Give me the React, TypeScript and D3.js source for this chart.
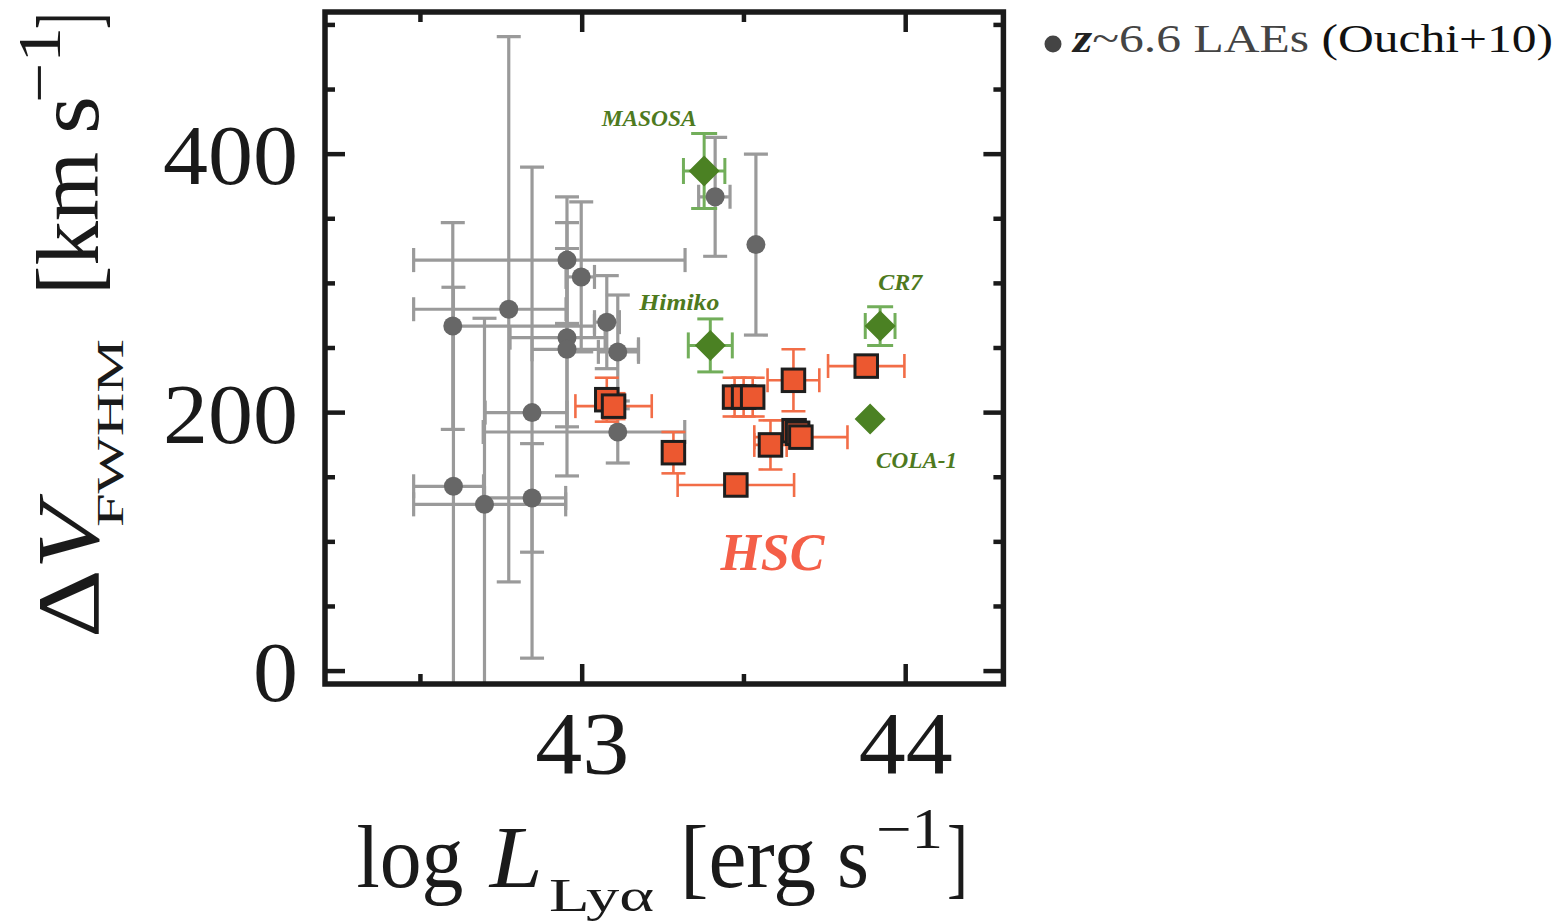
import React from "react";
import * as d3 from "d3";

// ---------- data ----------
// z~6.6 LAEs (Ouchi+10)
const ouchiLogL = [42.6, 42.773, 42.953, 42.997, 43.076, 42.953, 42.953, 43.11, 42.845, 43.11, 42.602, 42.698, 42.845, 43.411, 43.537];
const ouchiFWHM = [267, 280, 318, 305, 270, 258, 249, 247, 200, 185, 143, 129, 134, 367, 330];
const ouchiLogLLo = [42.6, 42.479, 42.479, 42.95, 43.038, 42.777, 42.845, 43.05, 42.7, 42.694, 42.479, 42.479, 42.698, 43.36, 43.537];
const ouchiLogLHi = [43.038, 42.95, 43.318, 43.038, 43.115, 43.071, 43.174, 43.174, 42.953, 43.317, 42.695, 42.949, 42.949, 43.457, 43.537];
const ouchiFWHMErr = [80, 211, 49, 58, 36, 69, 98, 44, 190, 24, 154, 144, 42, 46, 70];

// HSC LAEs
const hscLogL = [43.076, 43.097, 43.282, 43.475, 43.471, 43.499, 43.527, 43.653, 43.878, 43.582, 43.655, 43.666, 43.676];
const hscFWHM = [210, 205, 169, 144, 212, 212, 212, 225, 236, 175, 186, 184, 181];
const hscLogLErr = [0.03, 0.118, 0.02, 0.18, 0.03, 0.03, 0.03, 0.08, 0.118, 0.05, 0.03, 0.03, 0.144];
const hscFWHMErr = [17, 10, 16, 8, 15, 15, 15, 24, 8, 19, 8, 8, 8];

// Named luminous LAEs
const namedLabels = ["MASOSA", "Himiko", "CR7", "COLA-1"];
const namedLogL = [43.377, 43.396, 43.921, 43.89];
const namedFWHM = [387, 252, 267, 195];
const namedLogLErr = [0.064, 0.068, 0.046, 0];
const namedFWHMErr = [29, 20.5, 15, 0];

// axes
const xMajorTicks = [43, 44];
const xMinorTicks = [42.5, 43.5];
const yMajorTicks = [0, 200, 400];
const yMinorTicks = [50, 100, 150, 250, 300, 350, 450, 500];
const xTickLabels = ["43", "44"];
const yTickLabels = ["0", "200", "400"];

// ---------- layout (not data) ----------
const labelDx = [-55, -31, 20, 46.5];
const labelDy = [-45, -35, -36, 49];
const labelW = [95, 80, 44, 81];

const SERIF = "'Liberation Serif', 'Times New Roman', serif";

export default function App() {
  const x = d3.scaleLinear().domain([42.205, 44.302]).range([325, 1003.4]);
  const y = d3.scaleLinear().domain([-10, 510]).range([684, 12]);
  const [xl, xr] = x.range();
  const [yb, yt] = y.range();

  const grayBar = "#9a9a9a";
  const grayDot = "#676767";
  const orangeFill = "#EC5830";
  const orangeBar = "#F26D47";
  const greenFill = "#4B8123";
  const greenBar = "#72AE5A";
  const greenText = "#4E7A1E";
  const ink = "#1a1a1a";

  const capG = 12;
  const capO = 12;
  const capGr = 13;

  const hCap = (cx: number, cy: number, h: number, key: string, color: string, w: number) => (
    <line key={key} x1={cx - h} x2={cx + h} y1={cy} y2={cy} stroke={color} strokeWidth={w} />
  );
  const vCap = (cx: number, cy: number, h: number, key: string, color: string, w: number) => (
    <line key={key} x1={cx} x2={cx} y1={cy - h} y2={cy + h} stroke={color} strokeWidth={w} />
  );

  // Gray error bars
  const grayBars: React.ReactNode[] = [];
  ouchiLogL.forEach((lx, i) => {
    const cx = x(lx);
    const cy = y(ouchiFWHM[i]);
    const e = ouchiFWHMErr[i];
    const ytop = y(ouchiFWHM[i] + e);
    const ybot = y(ouchiFWHM[i] - e);
    grayBars.push(<line key={`gv${i}`} x1={cx} x2={cx} y1={ytop} y2={ybot} stroke={grayBar} strokeWidth={3.2} />);
    grayBars.push(hCap(cx, ytop, capG, `gct${i}`, grayBar, 3.2));
    grayBars.push(hCap(cx, ybot, capG, `gcb${i}`, grayBar, 3.2));
    const lo = ouchiLogLLo[i];
    const hi = ouchiLogLHi[i];
    if (hi - lo > 0.001) {
      grayBars.push(<line key={`gh${i}`} x1={x(lo)} x2={x(hi)} y1={cy} y2={cy} stroke={grayBar} strokeWidth={3.2} />);
      if (lx - lo > 0.005) grayBars.push(vCap(x(lo), cy, capG, `gcl${i}`, grayBar, 3.2));
      if (hi - lx > 0.005) grayBars.push(vCap(x(hi), cy, capG, `gcr${i}`, grayBar, 3.2));
    }
  });

  const grayDots = ouchiLogL.map((lx, i) => (
    <circle key={`gd${i}`} cx={x(lx)} cy={y(ouchiFWHM[i])} r={9.5} fill={grayDot} />
  ));

  // Green named objects
  const greenBars: React.ReactNode[] = [];
  namedLogL.forEach((lx, i) => {
    const cx = x(lx);
    const cy = y(namedFWHM[i]);
    if (namedFWHMErr[i] > 0) {
      const t = y(namedFWHM[i] + namedFWHMErr[i]);
      const b = y(namedFWHM[i] - namedFWHMErr[i]);
      greenBars.push(<line key={`nv${i}`} x1={cx} x2={cx} y1={t} y2={b} stroke={greenBar} strokeWidth={3} />);
      greenBars.push(hCap(cx, t, capGr, `nct${i}`, greenBar, 3));
      greenBars.push(hCap(cx, b, capGr, `ncb${i}`, greenBar, 3));
    }
    if (namedLogLErr[i] > 0) {
      const l = x(lx - namedLogLErr[i]);
      const r = x(lx + namedLogLErr[i]);
      greenBars.push(<line key={`nh${i}`} x1={l} x2={r} y1={cy} y2={cy} stroke={greenBar} strokeWidth={3} />);
      greenBars.push(vCap(l, cy, capGr, `ncl${i}`, greenBar, 3));
      greenBars.push(vCap(r, cy, capGr, `ncr${i}`, greenBar, 3));
    }
  });
  const dHalf = 15.5;
  const greenMarks = namedLogL.map((lx, i) => {
    const cx = x(lx);
    const cy = y(namedFWHM[i]);
    return (
      <path
        key={`nm${i}`}
        d={`M${cx},${cy - dHalf}L${cx + dHalf},${cy}L${cx},${cy + dHalf}L${cx - dHalf},${cy}Z`}
        fill={greenFill}
      />
    );
  });
  const greenLabels = namedLabels.map((t, i) => (
    <text
      key={`nl${i}`}
      x={x(namedLogL[i]) + labelDx[i]}
      y={y(namedFWHM[i]) + labelDy[i]}
      textAnchor="middle"
      fontFamily={SERIF}
      fontWeight="bold"
      fontStyle="italic"
      fontSize={23}
      fill={greenText}
      textLength={labelW[i]}
      lengthAdjust="spacingAndGlyphs"
    >
      {t}
    </text>
  ));

  // HSC
  const hscBars: React.ReactNode[] = [];
  hscLogL.forEach((lx, i) => {
    const cx = x(lx);
    const cy = y(hscFWHM[i]);
    const t = y(hscFWHM[i] + hscFWHMErr[i]);
    const b = y(hscFWHM[i] - hscFWHMErr[i]);
    const l = x(lx - hscLogLErr[i]);
    const r = x(lx + hscLogLErr[i]);
    hscBars.push(<line key={`hv${i}`} x1={cx} x2={cx} y1={t} y2={b} stroke={orangeBar} strokeWidth={2.6} />);
    hscBars.push(hCap(cx, t, capO, `hct${i}`, orangeBar, 2.6));
    hscBars.push(hCap(cx, b, capO, `hcb${i}`, orangeBar, 2.6));
    hscBars.push(<line key={`hh${i}`} x1={l} x2={r} y1={cy} y2={cy} stroke={orangeBar} strokeWidth={2.6} />);
    hscBars.push(vCap(l, cy, capO, `hcl${i}`, orangeBar, 2.6));
    hscBars.push(vCap(r, cy, capO, `hcr${i}`, orangeBar, 2.6));
  });
  const sq = 22.5;
  const hscMarks = hscLogL.map((lx, i) => (
    <rect
      key={`hm${i}`}
      x={x(lx) - sq / 2}
      y={y(hscFWHM[i]) - sq / 2}
      width={sq}
      height={sq}
      fill={orangeFill}
      stroke="#1e1e1e"
      strokeWidth={3}
    />
  ));

  // ticks
  const tickW = 4.5;
  const majL = 20;
  const minL = 10;
  const ticks: React.ReactNode[] = [];
  xMajorTicks.concat(xMinorTicks).forEach((v, i) => {
    const len = i < xMajorTicks.length ? majL : minL;
    const px = x(v);
    ticks.push(<line key={`xb${i}`} x1={px} x2={px} y1={yb} y2={yb - len} stroke={ink} strokeWidth={tickW} />);
    ticks.push(<line key={`xt${i}`} x1={px} x2={px} y1={yt} y2={yt + len} stroke={ink} strokeWidth={tickW} />);
  });
  yMajorTicks.concat(yMinorTicks).forEach((v, i) => {
    const len = i < yMajorTicks.length ? majL : minL;
    const py = y(v);
    ticks.push(<line key={`yl${i}`} x1={xl} x2={xl + len} y1={py} y2={py} stroke={ink} strokeWidth={tickW} />);
    ticks.push(<line key={`yr${i}`} x1={xr} x2={xr - len} y1={py} y2={py} stroke={ink} strokeWidth={tickW} />);
  });

  const yTickTexts = yMajorTicks.map((v, i) => (
    <text
      key={`ytl${i}`}
      x={298}
      y={y(v) + 30}
      textAnchor="end"
      fontFamily={SERIF}
      fontSize={84}
      fill={ink}
      textLength={yTickLabels[i].length * 45}
      lengthAdjust="spacingAndGlyphs"
    >
      {yTickLabels[i]}
    </text>
  ));
  const xTickTexts = xMajorTicks.map((v, i) => (
    <text
      key={`xtl${i}`}
      x={x(v) - 47}
      y={773}
      fontFamily={SERIF}
      fontSize={88}
      fill={ink}
      textLength={94}
      lengthAdjust="spacingAndGlyphs"
    >
      {xTickLabels[i]}
    </text>
  ));

  const T = (props: any) => (
    <text fontFamily={SERIF} fill={ink} lengthAdjust="spacingAndGlyphs" {...props} />
  );

  return (
    <svg
      width={1566}
      height={921}
      viewBox="0 0 1566 921"
      style={{ position: "absolute", left: 0, top: 0, display: "block", background: "#fff" }}
    >
      <defs>
        <clipPath id="plotClip">
          <rect x={xl} y={yt} width={xr - xl} height={yb - yt} />
        </clipPath>
      </defs>
      <rect x={0} y={0} width={1566} height={921} fill="#fff" />

      <g clipPath="url(#plotClip)">
        {grayBars}
        {greenBars}
        {grayDots}
        {greenMarks}
        {hscBars}
        {hscMarks}
      </g>
      {greenLabels}
      <text
        x={772.4}
        y={570}
        textAnchor="middle"
        fontFamily={SERIF}
        fontWeight="bold"
        fontStyle="italic"
        fontSize={52}
        fill="#F45F48"
        textLength={104}
        lengthAdjust="spacingAndGlyphs"
      >
        HSC
      </text>

      {ticks}
      <rect x={xl} y={yt} width={xr - xl} height={yb - yt} fill="none" stroke={ink} strokeWidth={5.5} />

      {yTickTexts}
      {xTickTexts}

      {/* x-axis label */}
      <T x={356.4} y={886.7} fontSize={88} textLength={107}>log</T>
      <T x={489.7} y={886.7} fontSize={88} fontStyle="italic" textLength={53}>L</T>
      <T x={549} y={911} fontSize={46} textLength={105}>Lyα</T>
      <T x={680} y={886.7} fontSize={88} textLength={136}>[erg</T>
      <T x={837} y={886.7} fontSize={88} textLength={32}>s</T>
      <T x={876} y={848} fontSize={56} textLength={67}>−1</T>
      <T x={947} y={886.7} fontSize={88} textLength={21}>]</T>

      {/* y-axis label (rotated) */}
      <g transform="rotate(-90)">
        <T x={-638} y={98} fontSize={88} textLength={134}>
          Δ<tspan fontStyle="italic">V</tspan>
        </T>
        <T x={-527} y={123} fontSize={37} textLength={188}>FWHM</T>
        <T x={-295} y={98} fontSize={88} textLength={143}>[km</T>
        <T x={-134} y={98} fontSize={88} textLength={38}>s</T>
        <T x={-103} y={60} fontSize={62} textLength={76}>−1</T>
        <T x={-29} y={98} fontSize={88} textLength={16}>]</T>
      </g>

      {/* legend */}
      <circle cx={1053} cy={44} r={8.5} fill="#444" />
      <T x={1073} y={51.5} fontSize={40} textLength={480}>
        <tspan fontWeight="bold" fontStyle="italic" fill="#222">z</tspan>
        <tspan fill="#444">~6.6 LAEs </tspan>
        <tspan fill="#111">(Ouchi+10)</tspan>
      </T>
    </svg>
  );
}
